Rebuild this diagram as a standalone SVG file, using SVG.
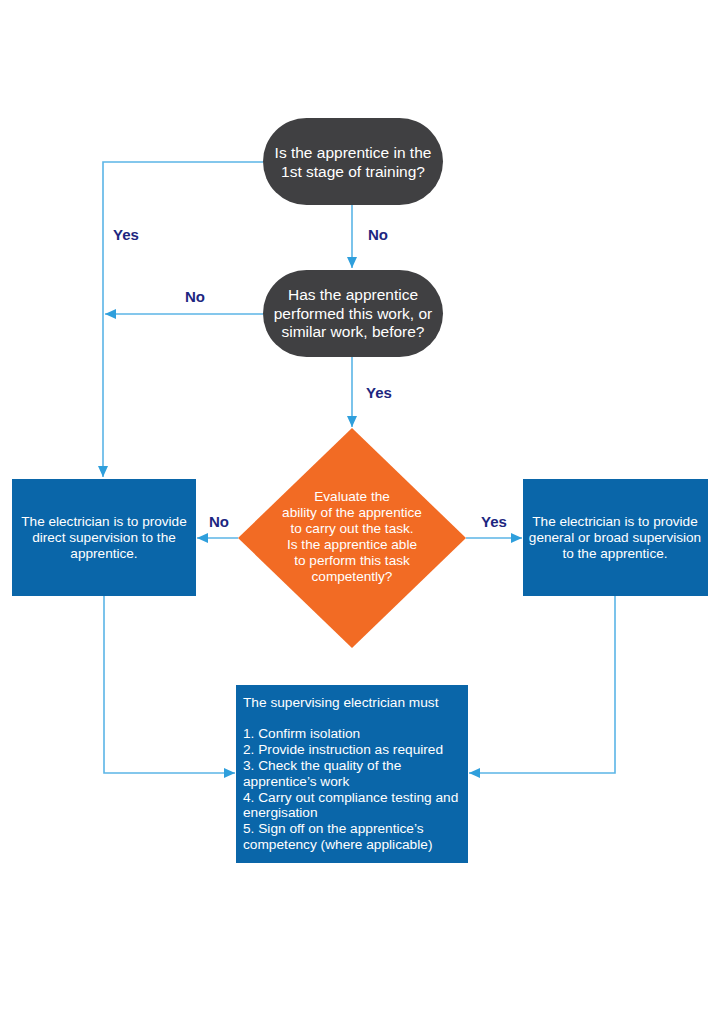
<svg xmlns="http://www.w3.org/2000/svg" width="724" height="1024" viewBox="0 0 724 1024">
<defs>
<marker id="ah" markerUnits="userSpaceOnUse" markerWidth="12" markerHeight="12" viewBox="0 0 12 12" refX="11" refY="6" orient="auto">
<path d="M0,1 L11,6 L0,11 Z" fill="#2f9fdc"/>
</marker>
<style>
.conn{fill:none;stroke:#5bb5e6;stroke-width:1.6}
.pill{fill:#404042}
.box{fill:#0a66a9}
.dia{fill:#f26b24}
.wt{font-family:"Liberation Sans",Arial,sans-serif;fill:#ffffff;text-anchor:middle}
.bt{font-family:"Liberation Sans",Arial,sans-serif;fill:#ffffff;font-size:13.7px}
.lbl{font-family:"Liberation Sans",Arial,sans-serif;fill:#1d2680;font-size:15px;font-weight:bold}
</style>
</defs>
<rect width="724" height="1024" fill="#ffffff"/>
<g id="connectors">
<path class="conn" d="M263,162 H103 V477" marker-end="url(#ah)"/>
<path class="conn" d="M352,205 V268" marker-end="url(#ah)"/>
<path class="conn" d="M263,314 H105" marker-end="url(#ah)"/>
<path class="conn" d="M352,357 V427" marker-end="url(#ah)"/>
<path class="conn" d="M238,538 H197" marker-end="url(#ah)"/>
<path class="conn" d="M466,538 H522" marker-end="url(#ah)"/>
<path class="conn" d="M104,596 V773 H235" marker-end="url(#ah)"/>
<path class="conn" d="M615,596 V773 H469" marker-end="url(#ah)"/>
<text class="lbl" x="113" y="240">Yes</text>
<text class="lbl" x="368" y="240">No</text>
<text class="lbl" x="185" y="302">No</text>
<text class="lbl" x="366" y="398">Yes</text>
<text class="lbl" x="209" y="527">No</text>
<text class="lbl" x="481" y="527">Yes</text>
</g>
<g id="q1">
<rect class="pill" x="263" y="118" width="180" height="87" rx="43.5"/>
<text class="wt" font-size="15.5" x="353" y="158">Is the apprentice in the</text>
<text class="wt" font-size="15.5" x="353" y="177">1st stage of training?</text>
</g>
<g id="q2">
<rect class="pill" x="263" y="270" width="180" height="87" rx="43.5"/>
<text class="wt" font-size="15.5" x="353" y="300">Has the apprentice</text>
<text class="wt" font-size="15.5" x="353" y="318.5">performed this work, or</text>
<text class="wt" font-size="15.5" x="353" y="337">similar work, before?</text>
</g>
<g id="q3">
<polygon class="dia" points="352,428 466,538 352,648 238,538"/>
<text class="wt" font-size="13.6" x="352" y="501">Evaluate the</text>
<text class="wt" font-size="13.6" x="352" y="517">ability of the apprentice</text>
<text class="wt" font-size="13.6" x="352" y="533">to carry out the task.</text>
<text class="wt" font-size="13.6" x="352" y="549">Is the apprentice able</text>
<text class="wt" font-size="13.6" x="352" y="565">to perform this task</text>
<text class="wt" font-size="13.6" x="352" y="581">competently?</text>
</g>
<g id="direct">
<rect class="box" x="12" y="479" width="184" height="117"/>
<text class="wt" font-size="13.6" x="104" y="526">The electrician is to provide</text>
<text class="wt" font-size="13.6" x="104" y="542">direct supervision to the</text>
<text class="wt" font-size="13.6" x="104" y="558">apprentice.</text>
</g>
<g id="general">
<rect class="box" x="523" y="479" width="185" height="117"/>
<text class="wt" font-size="13.6" x="615" y="526">The electrician is to provide</text>
<text class="wt" font-size="13.6" x="615" y="542">general or broad supervision</text>
<text class="wt" font-size="13.6" x="615" y="558">to the apprentice.</text>
</g>
<g id="must">
<rect class="box" x="236" y="685" width="232" height="178"/>
<text class="bt" x="243" y="707">The supervising electrician must</text>
<text class="bt" x="243" y="738">1. Confirm isolation</text>
<text class="bt" x="243" y="754">2. Provide instruction as required</text>
<text class="bt" x="243" y="770">3. Check the quality of the</text>
<text class="bt" x="243" y="785.5">apprentice’s work</text>
<text class="bt" x="243" y="801.5">4. Carry out compliance testing and</text>
<text class="bt" x="243" y="817">energisation</text>
<text class="bt" x="243" y="833">5. Sign off on the apprentice’s</text>
<text class="bt" x="243" y="848.5">competency (where applicable)</text>
</g>
</svg>
